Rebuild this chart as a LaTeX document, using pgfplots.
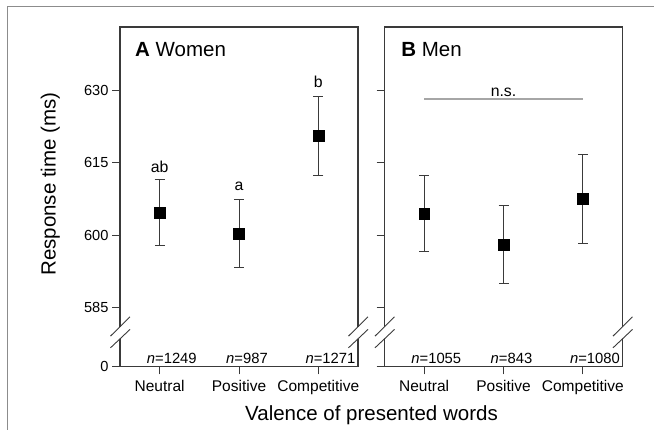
\documentclass[border=0pt]{standalone}
\usepackage{pgfplots}
\pgfplotsset{compat=1.18}
\usepackage{pgfplotstable}
\usepackage{fontspec}
\setmainfont{Liberation Sans}
\setsansfont{Liberation Sans}

\definecolor{boxc}{HTML}{3A3A3A}
\definecolor{nsgray}{HTML}{A6A6A6}
\definecolor{framec}{HTML}{8C8C8C}

% means and error half-widths (ms)
\pgfplotstableread{
x y e
0 604.70 6.76
1 600.35 7.11
2 620.64 8.18
}\women
\pgfplotstableread{
x y e
0 604.49 7.81
1 598.07 8.07
2 607.52 9.14
}\men

\newcommand{\ticksize}{\fontsize{14.6}{17}\selectfont}
\newcommand{\lettersize}{\fontsize{15.8}{18}\selectfont}
\newcommand{\nsize}{\fontsize{14.8}{17}\selectfont}

% box with broken vertical axes
\newcommand{\panelbox}{%
  \draw[boxc, line width=1.1pt] (axis cs:-0.5,581.06) -- (rel axis cs:0,1) -- (rel axis cs:1,1) -- (axis cs:2.5,581.06);
  \draw[boxc, line width=1.1pt] (axis cs:-0.5,578.57) -- (rel axis cs:0,0) -- (rel axis cs:1,0) -- (axis cs:2.5,578.57);
  \draw[boxc, line width=0.9pt] ([xshift=-9.5pt]axis cs:-0.5,579.09) -- ([xshift=10pt]axis cs:-0.5,583.09);
  \draw[boxc, line width=0.9pt] ([xshift=-9.5pt]axis cs:-0.5,576.67) -- ([xshift=10pt]axis cs:-0.5,580.48);
  \draw[boxc, line width=0.9pt] ([xshift=-9.5pt]axis cs:2.5,579.09) -- ([xshift=10pt]axis cs:2.5,583.09);
  \draw[boxc, line width=0.9pt] ([xshift=-9.5pt]axis cs:2.5,576.67) -- ([xshift=10pt]axis cs:2.5,580.48);
}

\pgfplotsset{
  panel/.style={
    scale only axis, width=238pt, height=339.5pt,
    xmin=-0.5, xmax=2.5, ymin=572.8, ymax=643.1,
    axis lines*=left, axis line style={draw=none},
    tick align=outside, major tick length=8pt,
    tick style={boxc, line width=0.9pt},
    xtick={0,1,2}, xticklabels={Neutral,Positive,Competitive},
    ytick={572.8,585,600,615,630},
    xticklabel style={font=\fontsize{15.5}{18}\selectfont, yshift=-2.5pt},
    yticklabel style={font=\ticksize},
    clip=false,
  },
  pts/.style={only marks, mark=square*, mark size=5.4pt, black,
    error bars/.cd, y dir=both, y explicit,
    error bar style={boxc, line width=0.9pt},
    error mark options={boxc, line width=0.9pt, mark size=5pt, rotate=90}},
}

\begin{document}
\begin{tikzpicture}
\useasboundingbox (0,0) rectangle (654pt,430pt);
\draw[framec, line width=1.5pt] (7.5pt,0) -- (7.5pt,423.5pt) -- (654pt,423.5pt);

\begin{axis}[panel, at={(120pt,63.5pt)}, anchor=south west,
    yticklabels={0,585,600,615,630}]
  \addplot[pts] table[x=x, y=y, y error=e] {\women};
  \panelbox
  \node[anchor=base west, font=\fontsize{20.5}{24}\selectfont] at ([xshift=11.7pt,yshift=-29.7pt]rel axis cs:0,1) {\textbf{A} Women};
  \node[anchor=base, font=\lettersize, yshift=7.5pt] at (axis cs:0,611.46) {ab};
  \node[anchor=base, font=\lettersize, yshift=8.3pt] at (axis cs:1,607.46) {a};
  \node[anchor=base, font=\lettersize, yshift=8.4pt] at (axis cs:2,628.82) {b};
  \node[anchor=base west, font=\nsize, xshift=-16.3pt, yshift=3.3pt] at (axis cs:0,572.8) {\textit{n}=1249};
  \node[anchor=base west, font=\nsize, xshift=-16.3pt, yshift=3.3pt] at (axis cs:1,572.8) {\textit{n}=987};
  \node[anchor=base west, font=\nsize, xshift=-16.3pt, yshift=3.3pt] at (axis cs:2,572.8) {\textit{n}=1271};
\end{axis}

\begin{axis}[panel, at={(384.5pt,63.5pt)}, anchor=south west,
    yticklabels={}]
  \addplot[pts] table[x=x, y=y, y error=e] {\men};
  \panelbox
  \node[anchor=base west, font=\fontsize{20.5}{24}\selectfont] at ([xshift=13.3pt,yshift=-29.2pt]rel axis cs:0,1) {\textbf{B} Men};
  \draw[nsgray, line width=2pt] (axis cs:0,628.1) -- (axis cs:2,628.1);
  \node[anchor=base, font=\lettersize, yshift=3pt] at (axis cs:1,628.1) {n.s.};
  \node[anchor=base west, font=\nsize, xshift=-16.3pt, yshift=3.3pt] at (axis cs:0,572.8) {\textit{n}=1055};
  \node[anchor=base west, font=\nsize, xshift=-16.3pt, yshift=3.3pt] at (axis cs:1,572.8) {\textit{n}=843};
  \node[anchor=base west, font=\nsize, xshift=-16.3pt, yshift=3.3pt] at (axis cs:2,572.8) {\textit{n}=1080};
\end{axis}

\node[rotate=90, anchor=base, font=\fontsize{20.5}{24}\selectfont] at (55.5pt,246pt) {Response time (ms)};
\node[anchor=base, font=\fontsize{20.5}{24}\selectfont] at (371.5pt,9pt) {Valence of presented words};
\end{tikzpicture}
\end{document}
